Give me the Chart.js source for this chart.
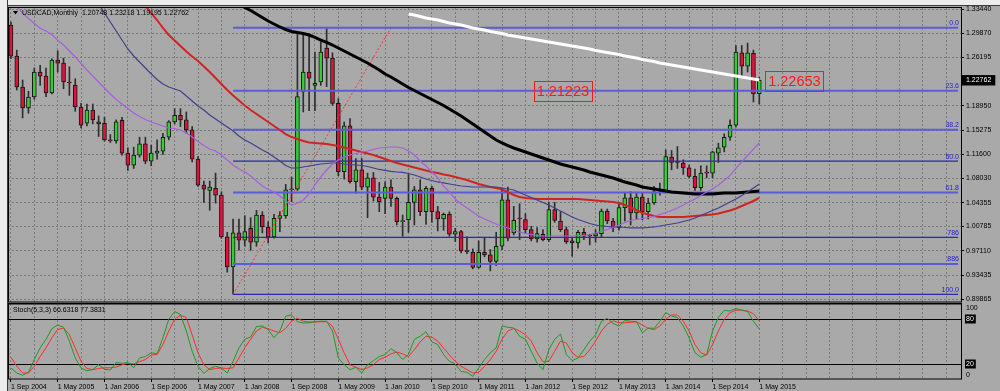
<!DOCTYPE html>
<html><head><meta charset="utf-8">
<script src="https://cdn.jsdelivr.net/npm/chart.js@4.4.0/dist/chart.umd.min.js"></script>
<style>
html,body{margin:0;padding:0;width:1000px;height:391px;overflow:hidden;background:#A9A9A9}
#wrap{position:relative;width:1000px;height:391px;background:#A9A9A9}
#lstrip{position:absolute;left:0;top:0;width:7px;height:391px;background:#ECECEC;border-right:1px solid #3c3c3c}
#tstrip{position:absolute;left:0;top:0;width:1000px;height:5px;background:#ECECEC;border-bottom:1px solid #3c3c3c}
canvas{position:absolute;left:0}
</style></head><body>
<div id="wrap">
<div id="tstrip"></div><div id="lstrip"></div>
<canvas id="main" width="1000" height="303" style="top:0"></canvas>
<canvas id="stoch" width="1000" height="88" style="top:303px"></canvas>
</div>
<script>
// ---------- DATA ----------
const monthNames = ['Jan','Feb','Mar','Apr','May','Jun','Jul','Aug','Sep','Oct','Nov','Dec'];
const firstMonth = {year: 2004, month: 8};   // Sep 2004
const slotCount = 163;                        // bars + empty right margin
const categories = [];
for (let i = 0; i < slotCount; i++) {
  const m = firstMonth.month + i;
  categories.push(monthNames[m % 12] + ' ' + (firstMonth.year + Math.floor(m / 12)));
}
const xTickLabels = ['1 Sep 2004','1 May 2005','1 Jan 2006','1 Sep 2006','1 May 2007','1 Jan 2008','1 Sep 2008','1 May 2009','1 Jan 2010','1 Sep 2010','1 May 2011','1 Jan 2012','1 Sep 2012','1 May 2013','1 Jan 2014','1 Sep 2014','1 May 2015'];

const opens = [1.3105,1.2640,1.2175,1.1860,1.2025,1.2400,1.2340,1.2085,1.2580,1.2535,1.2250,1.2205,1.1875,1.1630,1.1830,1.1650,1.1630,1.1380,1.1365,1.1675,1.1180,1.1000,1.1150,1.1320,1.1060,1.1180,1.1210,1.1420,1.1650,1.1750,1.1680,1.1530,1.1090,1.0700,1.0620,1.0650,1.0550,0.9920,0.9470,0.9980,0.9870,1.0050,0.9840,1.0250,1.0070,0.9920,1.0200,1.0240,1.0630,1.0640,1.2100,1.2400,1.2200,1.2250,1.2760,1.2610,1.1930,1.0900,1.1590,1.0750,1.0930,1.0670,1.0810,1.0520,1.0500,1.0670,1.0500,1.0150,1.0180,1.0440,1.0630,1.0300,1.0650,1.0300,1.0190,1.0260,0.9960,1.0000,0.9710,0.9690,0.9460,0.9690,0.9650,0.9550,0.9780,1.0480,0.9980,1.0200,1.0180,1.0030,0.9890,0.9960,0.9880,1.0330,1.0160,1.0030,0.9860,0.9830,0.9990,0.9945,0.9935,0.9970,1.0310,1.0160,1.0060,1.0360,1.0510,1.0280,1.0520,1.0300,1.0430,1.0610,1.0600,1.1120,1.1060,1.1030,1.0960,1.0830,1.0660,1.0885,1.0880,1.1180,1.1270,1.1420,1.1600,1.2690,1.2490,1.2680,1.20748];
const highs = [1.3150,1.2730,1.2280,1.2110,1.2460,1.2500,1.2460,1.2600,1.2720,1.2610,1.2480,1.2300,1.1930,1.1920,1.1920,1.1740,1.1720,1.1460,1.1680,1.1720,1.1260,1.1270,1.1420,1.1420,1.1300,1.1380,1.1480,1.1670,1.1850,1.1850,1.1800,1.1580,1.1130,1.0760,1.0760,1.0880,1.0600,0.9990,1.0190,1.0190,1.0240,1.0210,1.0320,1.0300,1.0150,1.0260,1.0300,1.0710,1.0820,1.2990,1.2990,1.2980,1.2700,1.2850,1.3050,1.2690,1.2000,1.1650,1.1700,1.1100,1.1100,1.0880,1.0890,1.0740,1.0750,1.0780,1.0520,1.0250,1.0860,1.0680,1.0780,1.0680,1.0680,1.0380,1.0280,1.0300,1.0050,1.0020,0.9920,0.9740,0.9860,0.9900,0.9730,0.9990,1.0660,1.0670,1.0380,1.0420,1.0270,1.0080,1.0060,1.0030,1.0440,1.0440,1.0300,1.0070,0.9900,1.0020,1.0050,0.9960,1.0030,1.0340,1.0340,1.0200,1.0410,1.0590,1.0600,1.0580,1.0590,1.0500,1.0680,1.0730,1.1230,1.1220,1.1280,1.1080,1.1000,1.0940,1.0990,1.0990,1.1210,1.1330,1.1470,1.1680,1.2800,1.2800,1.2835,1.2730,1.23218];
const lows = [1.2600,1.2130,1.1710,1.1780,1.1990,1.2200,1.2030,1.2070,1.2400,1.2150,1.2050,1.1810,1.1560,1.1590,1.1620,1.1430,1.1360,1.1340,1.1330,1.1150,1.0920,1.0950,1.1120,1.1020,1.0990,1.1090,1.1160,1.1380,1.1620,1.1580,1.1480,1.1050,1.0680,1.0440,1.0320,1.0430,0.9900,0.9390,0.9058,0.9720,0.9780,0.9720,0.9780,0.9980,0.9830,0.9900,1.0000,1.0200,1.0450,1.0620,1.1800,1.1820,1.1820,1.2200,1.2180,1.1900,1.0840,1.0790,1.0730,1.0580,1.0630,1.0210,1.0460,1.0300,1.0270,1.0380,1.0100,0.9930,0.9990,1.0100,1.0240,1.0110,1.0140,1.0010,1.0020,0.9930,0.9850,0.9680,0.9670,0.9440,0.9450,0.9620,0.9410,0.9490,0.9730,0.9860,0.9950,0.9880,0.9970,0.9860,0.9840,0.9860,0.9850,1.0140,1.0000,0.9820,0.9630,0.9750,0.9880,0.9800,0.9840,0.9910,1.0120,1.0000,1.0020,1.0160,1.0100,1.0180,1.0180,1.0190,1.0410,1.0550,1.0590,1.0930,1.0950,1.0860,1.0810,1.0620,1.0620,1.0810,1.0810,1.1040,1.1200,1.1370,1.1570,1.2350,1.2400,1.1950,1.19195];
const closes = [1.2640,1.2175,1.1860,1.2025,1.2400,1.2340,1.2085,1.2580,1.2535,1.2250,1.2235,1.1875,1.1600,1.1830,1.1680,1.1620,1.1380,1.1365,1.1650,1.1180,1.1000,1.1150,1.1320,1.1060,1.1180,1.1210,1.1420,1.1650,1.1750,1.1680,1.1530,1.1090,1.0700,1.0640,1.0670,1.0550,0.9920,0.9470,0.9980,0.9870,1.0000,0.9840,1.0250,1.0070,0.9920,1.0200,1.0240,1.0630,1.0640,1.2030,1.2400,1.2310,1.2230,1.2700,1.2610,1.1930,1.0900,1.1590,1.0750,1.0930,1.0670,1.0810,1.0520,1.0450,1.0670,1.0500,1.0150,1.0155,1.0440,1.0630,1.0300,1.0650,1.0300,1.0190,1.0260,0.9960,1.0000,0.9710,0.9700,0.9460,0.9690,0.9650,0.9550,0.9780,1.0480,0.9900,1.0170,1.0190,1.0030,0.9890,0.9970,0.9880,1.0330,1.0170,1.0030,0.9850,0.9830,0.9990,0.9930,0.9935,0.9970,1.0310,1.0160,1.0060,1.0360,1.0510,1.0280,1.0520,1.0300,1.0430,1.0600,1.0630,1.1130,1.1040,1.1040,1.0960,1.0830,1.0660,1.0880,1.0880,1.1200,1.1260,1.1420,1.1600,1.2700,1.2490,1.2690,1.2070,1.22762];

// moving averages (price per month, null where not drawn)
const maPurple = [1.3480,1.3380,1.3290,1.3206,1.3130,1.3060,1.3018,1.2965,1.2880,1.2807,1.2717,1.2627,1.2529,1.2431,1.2341,1.2251,1.2160,1.2070,1.1987,1.1920,1.1852,1.1784,1.1732,1.1686,1.1649,1.1619,1.1589,1.1559,1.1551,1.1529,1.1484,1.1423,1.1355,1.1295,1.1243,1.1213,1.1153,1.1077,1.1002,1.0942,1.0897,1.0837,1.0762,1.0686,1.0634,1.0596,1.0536,1.0461,1.0401,1.0431,1.0476,1.0566,1.0702,1.0822,1.0927,1.1017,1.1077,1.1123,1.1153,1.1175,1.1198,1.1213,1.1235,1.1258,1.1265,1.1273,1.1273,1.1258,1.1213,1.1153,1.1062,1.0987,1.0897,1.0807,1.0686,1.0596,1.0491,1.0416,1.0355,1.0295,1.0235,1.0190,1.0152,1.0115,1.0085,1.0055,1.0024,0.9994,0.9972,0.9957,0.9942,0.9934,0.9934,0.9934,0.9934,0.9934,0.9934,0.9942,0.9942,0.9949,0.9979,1.0002,1.0032,1.0062,1.0100,1.0137,1.0167,1.0182,1.0197,1.0212,1.0228,1.0258,1.0288,1.0318,1.0355,1.0401,1.0446,1.0491,1.0544,1.0596,1.0641,1.0702,1.0769,1.0845,1.0950,1.1050,1.1145,1.1240,1.1333];
const maNavy = [null,null,null,null,null,null,null,null,null,null,null,null,null,1.3484,1.3529,1.3424,1.3288,1.3153,1.3018,1.2882,1.2747,1.2642,1.2551,1.2461,1.2371,1.2288,1.2220,1.2175,1.2145,1.2115,1.2040,1.1965,1.1890,1.1829,1.1754,1.1694,1.1634,1.1574,1.1514,1.1438,1.1378,1.1333,1.1280,1.1228,1.1182,1.1123,1.1062,1.0995,1.0957,1.0957,1.0972,1.0987,1.1002,1.1017,1.1025,1.1032,1.1032,1.1017,1.1010,1.1002,1.0995,1.0980,1.0957,1.0935,1.0920,1.0905,1.0897,1.0890,1.0874,1.0852,1.0822,1.0792,1.0769,1.0747,1.0732,1.0716,1.0701,1.0686,1.0679,1.0671,1.0671,1.0671,1.0671,1.0671,1.0656,1.0641,1.0626,1.0588,1.0551,1.0513,1.0476,1.0438,1.0400,1.0355,1.0310,1.0265,1.0220,1.0182,1.0152,1.0122,1.0100,1.0085,1.0077,1.0070,1.0070,1.0062,1.0055,1.0055,1.0055,1.0062,1.0070,1.0085,1.0100,1.0115,1.0130,1.0152,1.0175,1.0205,1.0243,1.0280,1.0318,1.0355,1.0401,1.0446,1.0491,1.0544,1.0596,1.0656,1.0716];
const maRed = [null,null,null,null,null,null,null,null,null,null,null,null,null,null,null,null,null,null,null,null,null,null,1.3484,1.3394,1.3288,1.3183,1.3063,1.2957,1.2875,1.2792,1.2709,1.2634,1.2566,1.2484,1.2401,1.2311,1.2220,1.2130,1.2048,1.1972,1.1897,1.1829,1.1769,1.1709,1.1649,1.1589,1.1528,1.1468,1.1423,1.1393,1.1363,1.1340,1.1333,1.1325,1.1318,1.1303,1.1288,1.1265,1.1243,1.1220,1.1198,1.1175,1.1153,1.1123,1.1092,1.1062,1.1032,1.1010,1.0987,1.0965,1.0942,1.0920,1.0897,1.0882,1.0859,1.0844,1.0822,1.0799,1.0777,1.0747,1.0716,1.0694,1.0671,1.0656,1.0634,1.0596,1.0551,1.0521,1.0506,1.0498,1.0491,1.0491,1.0491,1.0491,1.0491,1.0491,1.0491,1.0491,1.0483,1.0476,1.0468,1.0461,1.0453,1.0446,1.0431,1.0401,1.0363,1.0325,1.0280,1.0258,1.0235,1.0220,1.0220,1.0220,1.0220,1.0220,1.0228,1.0235,1.0243,1.0250,1.0258,1.0273,1.0295,1.0318,1.0348,1.0386,1.0423,1.0461,1.0506];
const maBlack = [null,null,null,null,null,null,null,null,null,null,null,null,null,null,null,null,null,null,null,null,null,null,null,null,null,null,null,null,null,null,null,null,null,null,null,null,null,1.3514,1.3469,1.3416,1.3371,1.3326,1.3273,1.3221,1.3168,1.3123,1.3078,1.3040,1.3010,1.2995,1.2980,1.2957,1.2920,1.2882,1.2845,1.2807,1.2762,1.2717,1.2672,1.2627,1.2581,1.2536,1.2484,1.2431,1.2371,1.2326,1.2273,1.2220,1.2168,1.2122,1.2078,1.2032,1.1987,1.1942,1.1897,1.1844,1.1792,1.1739,1.1679,1.1619,1.1559,1.1498,1.1438,1.1378,1.1333,1.1295,1.1258,1.1228,1.1198,1.1168,1.1138,1.1108,1.1077,1.1047,1.1017,1.0995,1.0972,1.0950,1.0927,1.0897,1.0874,1.0852,1.0829,1.0807,1.0777,1.0747,1.0724,1.0701,1.0671,1.0656,1.0641,1.0626,1.0611,1.0596,1.0588,1.0581,1.0573,1.0566,1.0566,1.0566,1.0566,1.0573,1.0581,1.0581,1.0581,1.0588,1.0596,1.0603,1.0611];
const maWhite = [null,null,null,null,null,null,null,null,null,null,null,null,null,null,null,null,null,null,null,null,null,null,null,null,null,null,null,null,null,null,null,null,null,null,null,null,null,null,null,null,null,null,null,null,null,null,null,null,null,null,null,null,null,null,null,null,null,null,null,null,null,null,null,null,null,null,null,null,1.3273,1.3258,1.3236,1.3213,1.3198,1.3183,1.3161,1.3138,1.3123,1.3108,1.3085,1.3063,1.3048,1.3033,1.3010,1.2995,1.2980,1.2957,1.2942,1.2927,1.2912,1.2897,1.2882,1.2867,1.2852,1.2837,1.2822,1.2807,1.2792,1.2777,1.2762,1.2747,1.2724,1.2709,1.2694,1.2679,1.2664,1.2642,1.2627,1.2611,1.2589,1.2574,1.2559,1.2536,1.2521,1.2506,1.2491,1.2476,1.2461,1.2446,1.2431,1.2416,1.2401,1.2386,1.2371,1.2356,1.2341,1.2326,1.2311,1.2296,1.2281];

const stochK = [14.7,8,5,9,26,41.5,53,67,72,69,50.5,28,14.7,11,12.5,19,13,12,22,21,22,15,28,30,35,33.5,55,79.6,90,86,64,37,17,7.5,14,17,14.7,8,23.6,41.5,53,56,70,70.6,66,55,64,84,85.4,76.4,74.6,75,76.4,77,77,64,28,19,12.5,15.6,8,19,24.5,30,32.6,40.6,35,26,32.6,53,57,63,49.6,46,32.6,23.6,20,10,9,3.5,14.7,26,35,41.5,70.6,69,68,57,53,37,21,12.5,39,53,60,32.6,24.5,28,39,50.5,59,77,81,74,70.6,78,77,76.4,61.7,68,67.5,77,88.5,84,82,70.6,55,35,29,32.6,64,82,91.6,90.7,94,91.6,90,77,66.6318];
const stochD = [29,17,8,8,17,30,41.5,55,66,68,59,41.5,23.6,14,12.5,14,15,15,16,19,21,20,23,26,32,32.6,46,64,79.6,85,82,59,35,19,12.5,14,14.7,14,15,28,41.5,53,64,69,67,64,61.7,67.5,77,81,77,76,76,76.4,76.4,70.6,53,35,19,15.6,12.5,15,19,26,29,33.5,36,33.5,30,39,49.6,57,55.8,50.5,41.5,32,23.6,17,12.5,8,9,17,26,37,53,64,67.5,64,59,50.5,35,23,23.6,37,50.5,48,35,29,30,39,50.5,64,73,77.6,75,75,75.6,76.4,72,67.5,66,70.6,79.6,85.4,85.4,77,64,46,35,32,46,64,79.6,88.5,91.6,92,90.7,87,77.3831];
const stochLevels = [80, 20];
const stochAxisLabels = ['100', '80', '20', '0'];

const fibHigh = 1.3065, fibLow = 0.9056;
const fibStartIndex = 38;       // Nov 2007 anchor
const fibTrendEndIndex = 65;
const fibLevels = [0, 23.6, 38.2, 50.0, 61.8, 78.6, 88.6, 100.0];
const fibLabels = ['0.0', '23.6', '38.2', '50.0', '61.8', '786', '886', '100.0'];
const fibStrong = [true, true, true, false, true, false, true, false];

const priceTicks = [1.33440, 1.29870, 1.26195, 1.18950, 1.15275, 1.11600, 1.08030, 1.04355, 1.00785, 0.97110, 0.93435, 0.89865];
const currentPrice = 1.22762;
const priceNotes = [{i: 94.4, price: 1.21223}, {i: 134.0, price: 1.22653}];
const headerText = 'USDCAD,Monthly  1.20748 1.23218 1.19195 1.22762';
const stochTitle = 'Stoch(5,3,3) 66.6318 77.3831';

// ---------- STYLE ----------
const FONT = "'Liberation Sans', Arial, sans-serif";
Chart.defaults.font.family = FONT;
Chart.defaults.font.size = 7;
Chart.defaults.color = '#000';
const gridColor = '#7a7a7a';
const bull = '#32CD32', bear = '#DC143C';

const bodies = opens.map((o, i) => [o, closes[i]]);
const wicks = lows.map((l, i) => [l, highs[i]]);
const bodyColors = opens.map((o, i) => closes[i] >= o ? bull : bear);

const fibDatasets = fibLevels.map((lv, k) => {
  const p = fibHigh - lv / 100 * (fibHigh - fibLow);
  return {type: 'line', data: [{x: categories[fibStartIndex], y: p}, {x: categories[slotCount - 1], y: p}],
    borderColor: fibStrong[k] ? '#5c5cd6' : '#2a2aa6', borderWidth: fibStrong[k] ? 2 : 1.3,
    pointRadius: 0, order: 2};
});

const lineDs = (data, color, w) => ({type: 'line', data, borderColor: color, borderWidth: w, pointRadius: 0, tension: 0, order: 1, spanGaps: false});

const mainPlugin = {
  id: 'mainDecor',
  afterDraw(chart) {
    const {ctx, chartArea: a, scales: {x, y}} = chart;
    ctx.save();
    // frame
    ctx.strokeStyle = '#000'; ctx.lineWidth = 1;
    ctx.strokeRect(a.left + 0.5, a.top - 0.5, a.right - a.left, a.bottom - a.top + 0.5);
    // fib labels
    ctx.font = '7px ' + FONT; ctx.fillStyle = '#2424c8'; ctx.textAlign = 'right'; ctx.textBaseline = 'bottom';
    fibLevels.forEach((lv, k) => {
      const p = fibHigh - lv / 100 * (fibHigh - fibLow);
      ctx.fillText(fibLabels[k], a.right - 2, y.getPixelForValue(p) - 1);
    });
    // header
    ctx.fillStyle = '#000'; ctx.textAlign = 'left'; ctx.textBaseline = 'middle';
    ctx.beginPath(); ctx.moveTo(13, 11); ctx.lineTo(18, 11); ctx.lineTo(15.5, 14.5); ctx.closePath(); ctx.fill();
    ctx.fillText(headerText, 22, 13);
    // price notes
    ctx.font = '14.5px ' + FONT; ctx.textAlign = 'center'; ctx.textBaseline = 'middle';
    priceNotes.forEach(n => {
      const px = x.getPixelForValue(n.i), py = y.getPixelForValue(n.price);
      const t = n.price.toFixed(5); const w = ctx.measureText(t).width + 6;
      ctx.strokeStyle = '#ff1a1a'; ctx.lineWidth = 1;
      ctx.strokeRect(Math.round(px - w / 2) + 0.5, Math.round(py - 10) + 0.5, Math.round(w), 20);
      ctx.fillStyle = '#ff1a1a'; ctx.fillText(t, px, py + 1);
    });
    ctx.restore();
  }
};

new Chart(document.getElementById('main'), {
  type: 'bar',
  data: {
    labels: categories,
    datasets: [
      {type: 'bar', data: wicks, backgroundColor: '#2e2e2e', borderWidth: 0, barThickness: 1, grouped: false, order: 4},
      {type: 'bar', data: bodies, backgroundColor: bodyColors, borderColor: '#151515', borderWidth: 1, borderSkipped: false, barThickness: 4, minBarLength: 1, grouped: false, order: 3},
      ...fibDatasets,
      {type: 'line', data: [{x: categories[fibStartIndex], y: fibLow}, {x: categories[fibTrendEndIndex], y: fibHigh}], borderColor: '#ff3030', borderWidth: 1, borderDash: [2, 2], pointRadius: 0, order: 2},
      lineDs(maPurple, '#a65ee0', 1.2),
      lineDs(maNavy, '#40408e', 1.2),
      lineDs(maRed, '#d02424', 2),
      lineDs(maBlack, '#000000', 3),
      lineDs(maWhite, '#ffffff', 3)
    ]
  },
  options: {
    responsive: false, animation: false, devicePixelRatio: 1, events: [],
    layout: {padding: {left: 8, top: 8, right: 0, bottom: 1}},
    plugins: {legend: {display: false}, tooltip: {enabled: false}},
    scales: {
      x: {type: 'category', offset: true,
        ticks: {display: false, autoSkip: false},
        grid: {offset: false, drawTicks: false, color: c => c.index % 4 === 0 ? gridColor : 'rgba(0,0,0,0)'},
        border: {display: false, dash: [2, 2]},
        afterFit(s) { s.height = 0; s.paddingLeft = 0; s.paddingRight = 0; }},
      y: {type: 'linear', position: 'right', min: 0.89414, max: 1.33636,
        afterBuildTicks(s) { s.ticks = priceTicks.concat([currentPrice]).map(v => ({value: v})); },
        ticks: {autoSkip: false, padding: 2, font: {size: 7},
          color: c => c.tick && c.tick.value === currentPrice ? '#fff' : '#000',
          showLabelBackdrop: c => !!(c.tick && c.tick.value === currentPrice),
          backdropColor: '#000', backdropPadding: {left: 4, right: 4, top: 1, bottom: 1},
          callback: v => Number(v).toFixed(5)},
        grid: {color: c => c.tick && c.tick.value === currentPrice ? 'rgba(0,0,0,0)' : gridColor, tickColor: '#000', tickLength: 3},
        border: {display: false, dash: [2, 2]},
        afterFit(s) { s.width = 39; s.paddingTop = 0; s.paddingBottom = 0; }}
    }
  },
  plugins: [mainPlugin]
});

const stochPlugin = {
  id: 'stochDecor',
  beforeDatasetsDraw(chart) {
    const {ctx, chartArea: a, scales: {y}} = chart;
    ctx.save(); ctx.strokeStyle = '#000'; ctx.lineWidth = 1;
    stochLevels.forEach(l => { const py = Math.round(y.getPixelForValue(l)) + 0.5; ctx.beginPath(); ctx.moveTo(a.left, py); ctx.lineTo(a.right, py); ctx.stroke(); });
    ctx.restore();
  },
  afterDraw(chart) {
    const {ctx, chartArea: a, scales: {y}} = chart;
    ctx.save();
    ctx.strokeStyle = '#000'; ctx.lineWidth = 1;
    ctx.strokeRect(a.left + 0.5, a.top - 0.5, a.right - a.left, a.bottom - a.top + 0.5);
    ctx.lineWidth = 2; ctx.beginPath(); ctx.moveTo(a.left, 0.5); ctx.lineTo(a.right, 0.5); ctx.stroke();
    ctx.font = '7px ' + FONT; ctx.textBaseline = 'middle'; ctx.textAlign = 'left'; ctx.fillStyle = '#000';
    ctx.fillText(stochTitle, 13, 7);
    const lx = a.right + 5;
    ctx.fillText(stochAxisLabels[0], lx, y.getPixelForValue(100) + 4);
    ctx.fillText(stochAxisLabels[3], lx, y.getPixelForValue(0) - 4);
    [1, 2].forEach(k => {
      const py = y.getPixelForValue(stochLevels[k - 1]);
      const w = ctx.measureText(stochAxisLabels[k]).width;
      ctx.fillStyle = '#000'; ctx.fillRect(lx - 1, py - 4.5, w + 3, 9);
      ctx.fillStyle = '#fff'; ctx.fillText(stochAxisLabels[k], lx, py);
    });
    ctx.restore();
  }
};

new Chart(document.getElementById('stoch'), {
  type: 'line',
  data: {
    labels: categories,
    datasets: [
      {data: stochK, borderColor: '#1f9a1f', borderWidth: 1, pointRadius: 0, tension: 0, order: 1},
      {data: stochD, borderColor: '#ff2a2a', borderWidth: 1, pointRadius: 0, tension: 0, order: 2}
    ]
  },
  options: {
    responsive: false, animation: false, devicePixelRatio: 1, events: [],
    layout: {padding: {left: 8, top: 1, right: 0, bottom: 0}},
    plugins: {legend: {display: false}, tooltip: {enabled: false}},
    scales: {
      x: {type: 'category', offset: true,
        ticks: {autoSkip: false, maxRotation: 0, minRotation: 0, align: 'start', padding: 1, font: {size: 7}, color: '#000',
          callback: (v, i) => (i % 8 === 0 && xTickLabels[i / 8]) ? xTickLabels[i / 8] : ''},
        grid: {offset: false, tickLength: 3,
          color: c => c.index % 4 === 0 ? gridColor : 'rgba(0,0,0,0)',
          tickColor: c => (c.index % 8 === 0 && c.index / 8 < xTickLabels.length) ? '#000' : 'rgba(0,0,0,0)'},
        border: {display: false, dash: [2, 2]},
        afterFit(s) { s.height = 12; s.paddingLeft = 0; s.paddingRight = 0; }},
      y: {min: 0, max: 100, position: 'right', ticks: {display: false}, grid: {display: false}, border: {display: false},
        afterFit(s) { s.width = 39; s.paddingTop = 0; s.paddingBottom = 0; }}
    }
  },
  plugins: [stochPlugin]
});
</script>
</body></html>
